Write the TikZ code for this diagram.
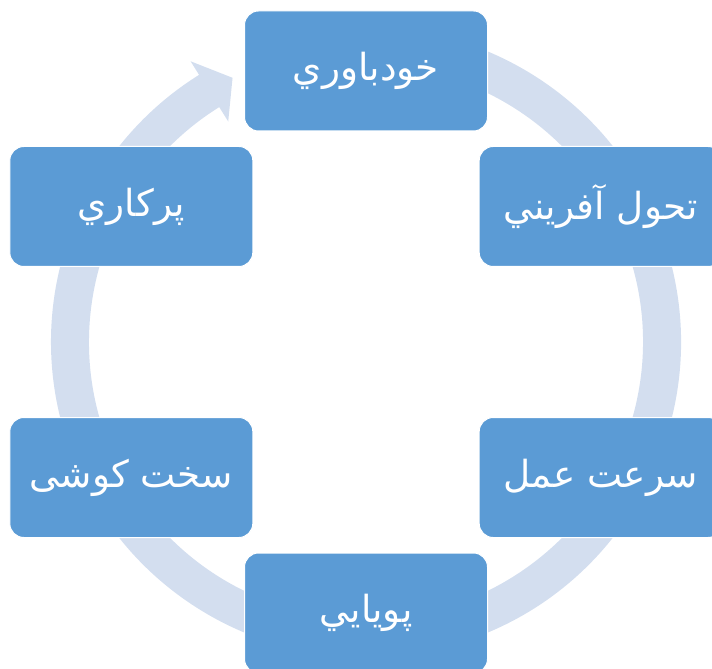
\documentclass[tikz,border=0pt]{standalone}
\usepackage{fontspec}
\TeXXeTstate=1
\newfontfamily\arabicfont[Script=Arabic]{DejaVu Sans}
\definecolor{boxblue}{HTML}{5B9BD5}
\definecolor{ringblue}{HTML}{D3DEEF}
\begin{document}
\begin{tikzpicture}[x=0.75pt,y=0.75pt,
  stepbox/.style={fill=boxblue, draw=white, line width=0.75pt, rounded corners=10.5pt,
    minimum width=182.25pt, minimum height=90pt, inner sep=0pt,
    text=white, font=\arabicfont\fontsize{28}{32}\selectfont}]
\useasboundingbox (0,0) rectangle (712,668);
\clip (0,0) rectangle (712,668);
\begin{scope}[shift={(366,326)}]
  \fill[ringblue] (105:315) arc[start angle=105, end angle=-238, radius=315]
    -- (122:331) -- (116.8:296) -- (122:260) -- (122:277)
    arc[start angle=122, end angle=465, radius=277] -- cycle;
  \node[stepbox] (top) at (90:271) {\beginR خودباوري\endR};
  \node[stepbox] (ru) at (30:271) {\beginR تحول آفريني\endR};
  \node[stepbox] (rl) at (-30:271) {\beginR سرعت عمل\endR};
  \node[stepbox] (bot) at (-90:271) {\beginR پويايي\endR};
  \node[stepbox] (ll) at (-150:271) {\beginR سخت کوشی\endR};
  \node[stepbox] (lu) at (150:271) {\beginR پرکاري\endR};
\end{scope}
\end{tikzpicture}
\end{document}
